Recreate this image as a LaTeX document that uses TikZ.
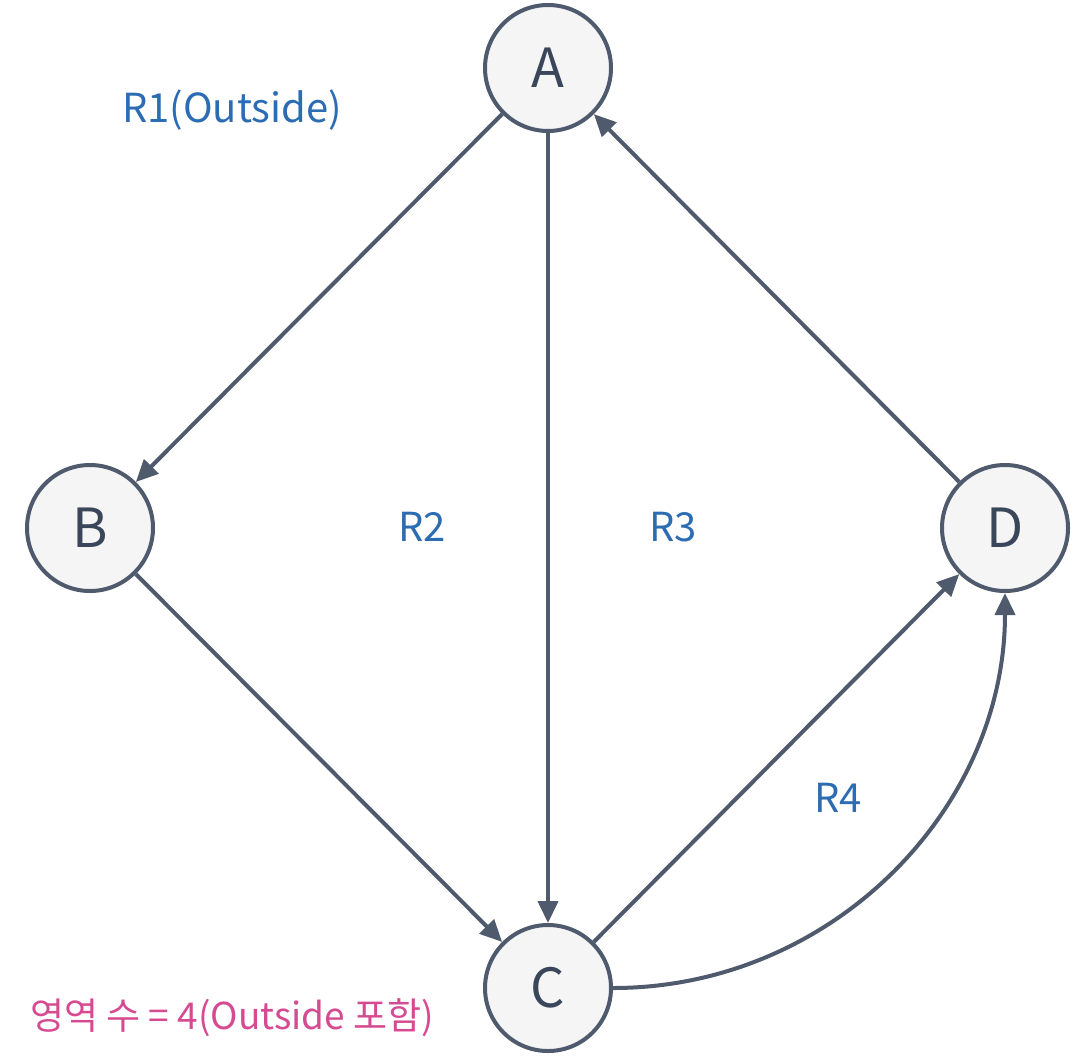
\documentclass[tikz,border=0pt]{standalone}
\usepackage{fontspec}
\setmainfont{Noto Sans CJK KR}
\usetikzlibrary{arrows.meta,positioning}
\definecolor{edgegray}{HTML}{4F5A6C}
\definecolor{nodefill}{HTML}{F5F5F6}
\definecolor{lettergray}{HTML}{3A4659}
\definecolor{regionblue}{HTML}{2C6CB3}
\definecolor{notepink}{HTML}{D64A91}

\begin{document}
\begin{tikzpicture}[
    x=1pt, y=-1pt,
    vertex/.style={
        circle,
        draw=edgegray,
        fill=nodefill,
        line width=4pt,
        minimum size=126pt,
        inner sep=0pt,
        text=lettergray,
        font=\fontsize{54}{60}\selectfont
    },
    region/.style={
        text=regionblue,
        font=\fontsize{40}{46}\selectfont
    },
    note/.style={
        text=notepink,
        font=\fontsize{37}{44}\selectfont
    },
    arrow/.style={-{Triangle[length=22pt,width=20pt]}, draw=edgegray, line width=4pt}
]

\useasboundingbox (0,0) rectangle (1075,1060);

\node[vertex] (A) at (548,68) {A};
\node[vertex] (B) at (90,528) {B};
\node[vertex] (C) at (548,988) {C};
\node[vertex] (D) at (1005,528) {D};

\node[region] (r1) at (232,110) {R1(Outside)};
\node[region] (r2) at (422,527) {R2};
\node[region] (r3) at (673,527) {R3};
\node[region] (r4) at (838,798) {R4};

\node[note] (count) at (232,1018) {영역 수 = 4(Outside 포함)};

\draw[arrow] (A) -- (B);
\draw[arrow] (A) -- (C);
\draw[arrow] (D) -- (A);
\draw[arrow] (B) -- (C);
\draw[arrow] (C) -- (D);
\draw[arrow] (C.east) to[out=0, in=-90] (D.south);

\end{tikzpicture}
\end{document}
